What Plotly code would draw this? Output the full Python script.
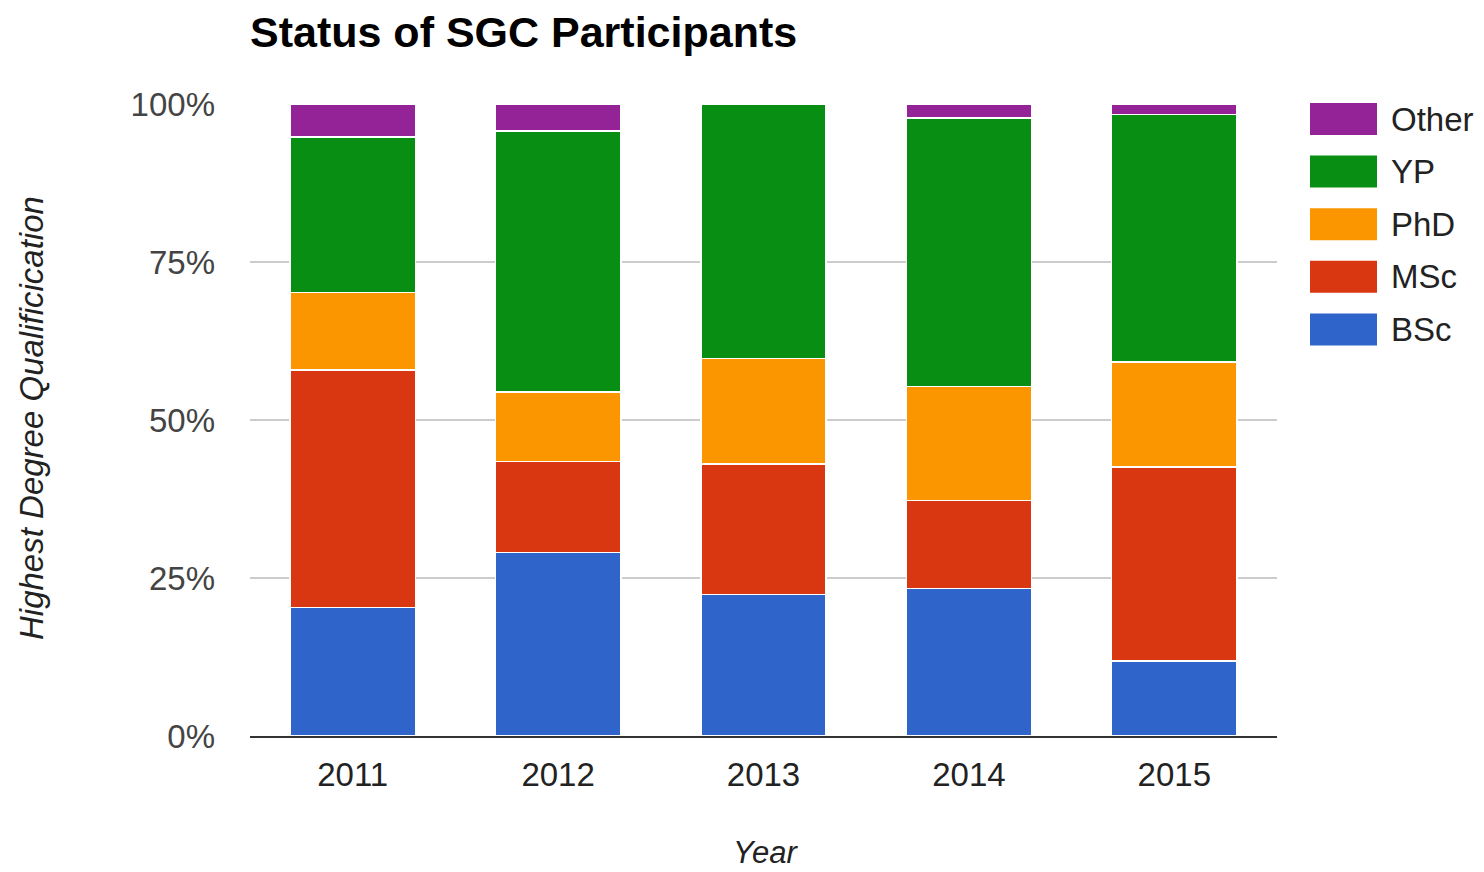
import plotly.graph_objects as go

years = ['2011', '2012', '2013', '2014', '2015']
bsc = [20.3, 29.0, 22.4, 23.3, 11.9]
msc = [37.6, 14.4, 20.6, 14.0, 30.7]
phd = [12.3, 11.0, 16.7, 18.0, 16.6]
yp = [24.6, 41.3, 40.3, 42.5, 39.1]
other = [5.2, 4.3, 0.0, 2.2, 1.7]

y_ticks = [0, 25, 50, 75, 100]
y_labels = ['0%', '25%', '50%', '75%', '100%']

series = [
    ('BSc', bsc, '#2F65CA'),
    ('MSc', msc, '#D93711'),
    ('PhD', phd, '#FC9600'),
    ('YP', yp, '#088F13'),
    ('Other', other, '#932396'),
]

OFF = 8  # page body margin
W, H = 1484 - OFF, 872 - OFF
L, R, T, B = 250 - OFF, 1277 - OFF, 104 - OFF, 736 - OFF  # plot area in figure pixels
FONT = 'Liberation Sans, Arial, sans-serif'


# screen pixel -> paper coordinate
def px_x(x):
    return (x - OFF - L) / (R - L)


def px_y(y):
    return (B - (y - OFF)) / (B - T)


fig = go.Figure()
for name, vals, color in series:
    fig.add_trace(go.Bar(
        x=years, y=vals, name=name,
        marker=dict(color=color, line=dict(color='white', width=1.5)),
    ))

# legend drawn by hand: big swatches like the original
shapes = []
annotations = []
for i, (name, vals, color) in enumerate(reversed(series)):
    cy = 119 + i * 52.6
    shapes.append(dict(
        type='rect', xref='paper', yref='paper',
        x0=px_x(1310), x1=px_x(1377), y0=px_y(cy + 16), y1=px_y(cy - 16),
        fillcolor=color, line=dict(width=0),
    ))
    annotations.append(dict(
        text=name, xref='paper', yref='paper', x=px_x(1389), y=px_y(cy),
        xanchor='left', yanchor='middle', showarrow=False,
        font=dict(family=FONT, size=33, color='#222222'),
    ))

annotations.append(dict(
    text='<i>Year</i>', xref='paper', yref='paper', x=px_x(765), y=px_y(853),
    xanchor='center', yanchor='middle', showarrow=False,
    font=dict(family=FONT, size=31, color='#222222'),
))
annotations.append(dict(
    text='<i>Highest Degree Qualificication</i>', xref='paper', yref='paper',
    x=px_x(31), y=px_y(418), textangle=-90,
    xanchor='center', yanchor='middle', showarrow=False,
    font=dict(family=FONT, size=33, color='#222222'),
))

fig.update_layout(
    barmode='stack',
    bargap=0.39,
    width=W, height=H,
    margin=dict(l=L, r=W - R, t=T, b=H - B, pad=0),
    paper_bgcolor='white',
    plot_bgcolor='white',
    showlegend=False,
    title=dict(
        text='<b>Status of SGC Participants</b>',
        x=L / W, xanchor='left', y=1 - (32 - OFF) / H, yanchor='middle',
        font=dict(family=FONT, size=43, color='#000000'),
    ),
    font=dict(family=FONT, size=33, color='#444444'),
    shapes=shapes,
    annotations=annotations,
)
fig.update_yaxes(
    range=[0, 100], tickvals=y_ticks, ticktext=y_labels,
    showgrid=True, gridcolor='#CCCCCC', gridwidth=2,
    zeroline=False, showline=False, ticks='',
    ticklabelstandoff=34,
    tickfont=dict(family=FONT, size=33, color='#444444'),
)
fig.update_xaxes(
    showline=True, linecolor='#333333', linewidth=2,
    showgrid=False, ticks='', ticklabelstandoff=8,
    tickfont=dict(family=FONT, size=33, color='#222222'),
)

fig.write_html('out.html')
